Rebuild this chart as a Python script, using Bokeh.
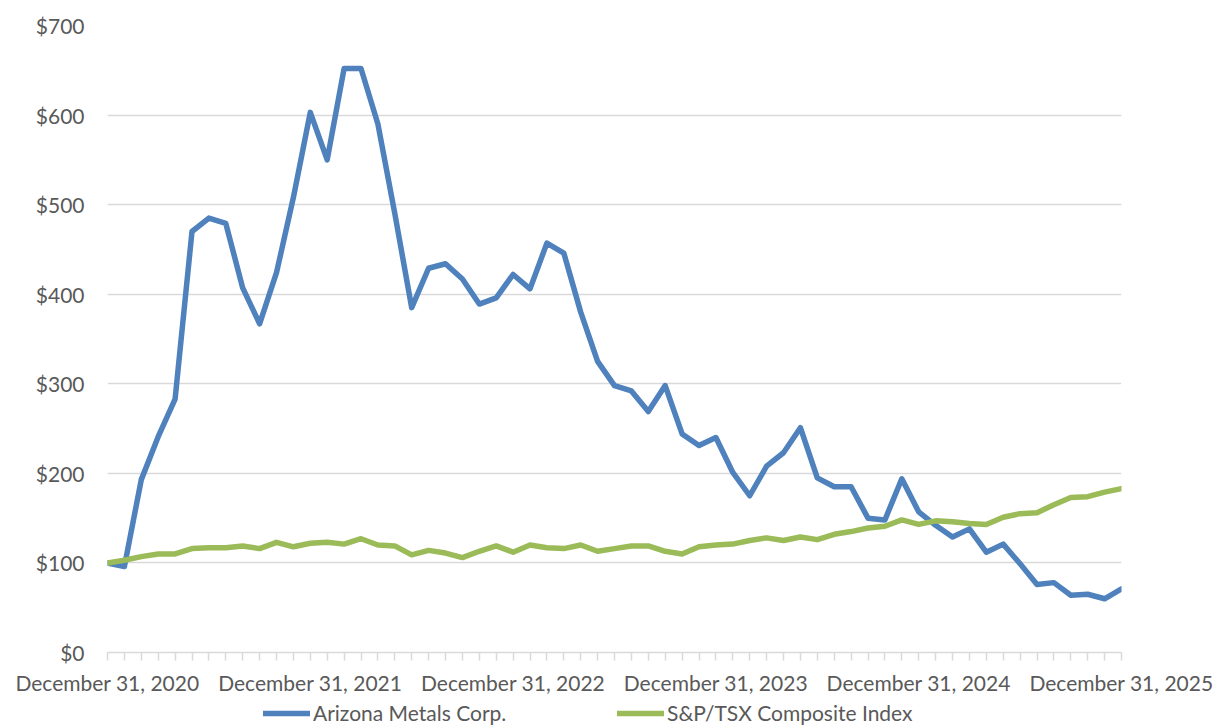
from bokeh.plotting import figure
from bokeh.layouts import column
from bokeh.models import Range1d, FixedTicker, Legend, LegendItem, NumeralTickFormatter
from bokeh.embed import file_html
from bokeh.resources import INLINE

# Monthly observations, Dec 31 2020 .. Dec 31 2025 (61 points)
arizona = [100, 96, 193, 241, 283, 470, 485, 479, 407, 367,
           424, 508, 603, 550, 652, 652, 590, 490, 385, 429,
           434, 417, 389, 396, 422, 406, 457, 446, 380, 325,
           298, 292, 269, 298, 244, 231, 240, 201, 175, 208,
           223, 251, 195, 185, 185, 150, 148, 194, 157, 142,
           129, 138, 112, 121, 99, 76, 78, 64, 65, 60, 71]
tsx = [100, 103, 107, 110, 110, 116, 117, 117, 119, 116,
       123, 118, 122, 123, 121, 127, 120, 119, 109, 114,
       111, 106, 113, 119, 112, 120, 117, 116, 120, 113,
       116, 119, 119, 113, 110, 118, 120, 121, 125, 128,
       125, 129, 126, 132, 135, 139, 141, 148, 143, 147,
       146, 144, 143, 151, 155, 156, 165, 173, 174, 179, 183]
year_labels = ["December 31, 2020", "December 31, 2021", "December 31, 2022",
               "December 31, 2023", "December 31, 2024", "December 31, 2025"]
series_names = ["Arizona Metals Corp.", "S&P/TSX Composite Index"]
colors = ["#4F81BD", "#9BBB59"]

x = list(range(len(arizona)))
FONT = "Lato"
FS = "21px"
TXT = "#595959"

p = figure(width=1219, height=701, output_backend="svg", toolbar_location=None,
           min_border_left=107, min_border_right=98, min_border_top=25, min_border_bottom=49)
p.x_range = Range1d(0, len(arizona) - 1)
p.y_range = Range1d(0, 700)
p.outline_line_color = None

p.line(x, arizona, line_color=colors[0], line_width=5.5, line_join="round", line_cap="round")
p.line(x, tsx, line_color=colors[1], line_width=5.5, line_join="round", line_cap="round")

# y axis
p.yaxis.ticker = FixedTicker(ticks=list(range(0, 701, 100)))
p.yaxis.formatter = NumeralTickFormatter(format="$0")
p.yaxis.axis_line_color = None
p.yaxis.major_tick_line_color = None
p.yaxis.minor_tick_line_color = None
p.yaxis.major_tick_out = 0
p.yaxis.major_tick_in = 0
p.yaxis.major_label_standoff = 23
p.yaxis.major_label_text_font = FONT
p.yaxis.major_label_text_font_size = FS
p.yaxis.major_label_text_color = TXT
p.ygrid.grid_line_color = "#d9d9d9"
p.ygrid.grid_line_width = 1.5

# x axis
p.xaxis.ticker = FixedTicker(ticks=x)
overrides = {i: "" for i in x}
for k, lab in enumerate(year_labels):
    overrides[k * 12] = lab
p.xaxis.major_label_overrides = overrides
p.xaxis.axis_line_color = "#d9d9d9"
p.xaxis.axis_line_width = 1.5
p.xaxis.major_tick_line_color = "#d9d9d9"
p.xaxis.major_tick_line_width = 1.5
p.xaxis.major_tick_out = 8
p.xaxis.major_tick_in = 0
p.xaxis.minor_tick_line_color = None
p.xaxis.major_label_standoff = 9
p.xaxis.major_label_text_font = FONT
p.xaxis.major_label_text_font_size = FS
p.xaxis.major_label_text_color = TXT
p.xgrid.grid_line_color = None

# legend strip below the chart
lf = figure(width=1219, height=24, output_backend="svg", toolbar_location=None,
            min_border_left=0, min_border_right=0, min_border_top=0, min_border_bottom=0,
            x_range=Range1d(0, 1), y_range=Range1d(0, 1))
lf.axis.visible = False
lf.grid.visible = False
lf.outline_line_color = None
dummies = [lf.line([5, 6], [5, 6], line_color=c, line_width=5.5, line_cap="round") for c in colors]
for name, rend, xpos in zip(series_names, dummies, [263, 617]):
    lg = Legend(items=[LegendItem(label=name, renderers=[rend])],
                location=(xpos - 107, 0), orientation="horizontal",
                label_text_font=FONT, label_text_font_size=FS, label_text_color=TXT,
                glyph_width=47, glyph_height=24, label_height=24, label_standoff=3,
                padding=0, margin=0, border_line_color=None, background_fill_alpha=0)
    lf.add_layout(lg, "center")

open("out.html", "w").write(file_html(column(p, lf), INLINE))
